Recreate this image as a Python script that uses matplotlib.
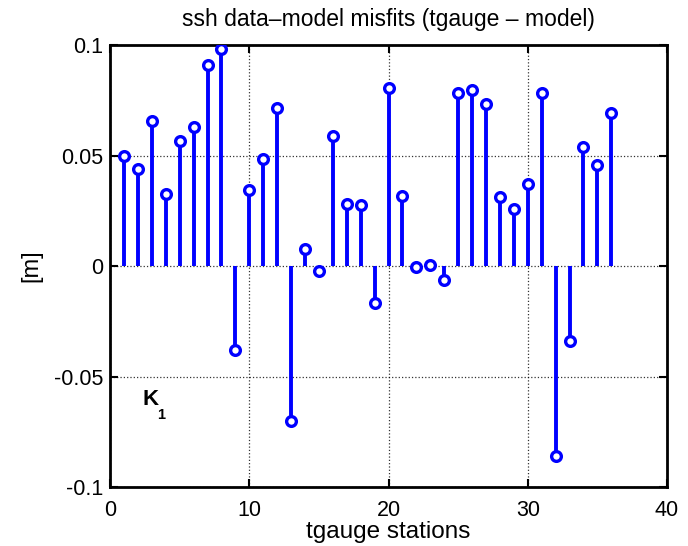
import numpy as np
import matplotlib
matplotlib.use("Agg")
import matplotlib.pyplot as plt

plt.rcParams['font.family'] = ['Liberation Sans', 'DejaVu Sans']
plt.rcParams['axes.unicode_minus'] = False

# station index and misfit values [m]
stations = np.arange(1, 37)
misfits = [0.050, 0.044, 0.0657, 0.0328, 0.0565, 0.0627, 0.091, 0.098, -0.0382,
           0.0346, 0.0482, 0.0717, -0.0702, 0.0077, -0.0023, 0.059, 0.028, 0.0274,
           -0.0166, 0.0804, 0.0319, -0.0003, 0.0003, -0.0063, 0.0783, 0.0798,
           0.0735, 0.0313, 0.026, 0.0373, 0.0783, -0.0858, -0.034, 0.0538,
           0.0458, 0.0691]
xticks = [0, 10, 20, 30, 40]
yticks = [-0.1, -0.05, 0, 0.05, 0.1]
yticklabels = ['-0.1', '-0.05', '0', '0.05', '0.1']

fig = plt.figure(figsize=(6.88, 5.46), dpi=100)
ax = fig.add_axes([0.160, 0.108, 0.8095, 0.8096])

blue = (0, 0, 1)
ax.vlines(stations, 0, misfits, colors=[blue], linewidth=2.8, zorder=3)
ax.plot(stations, misfits, 'o', markersize=7, markerfacecolor='white',
        markeredgecolor=blue, markeredgewidth=2.4, zorder=4)

ax.set_xlim(0, 40)
ax.set_ylim(-0.1, 0.1)
ax.set_xticks(xticks)
ax.set_yticks(yticks)
ax.set_yticklabels(yticklabels)
ax.tick_params(direction='in', length=6, width=1.5, top=True, right=True,
               labelsize=15.5, pad=5)
ax.tick_params(axis='x', pad=9)
ax.grid(True, linestyle=':', color='black', linewidth=0.9, alpha=0.8)
ax.set_axisbelow(True)
for s in ax.spines.values():
    s.set_linewidth(2)

ax.set_title('ssh data\u2013model misfits (tgauge \u2013 model)', fontsize=16.5, pad=14)
ax.set_xlabel('tgauge stations', fontsize=17.5, labelpad=0)
ax.set_ylabel('[m]', fontsize=17, labelpad=8)

ax.text(2.88, -0.0606, 'K', fontsize=16, fontweight='bold', ha='center', va='center')
ax.text(3.7, -0.0672, '1', fontsize=10.5, fontweight='bold', ha='center', va='center')

fig.savefig('out.png', dpi=100)
